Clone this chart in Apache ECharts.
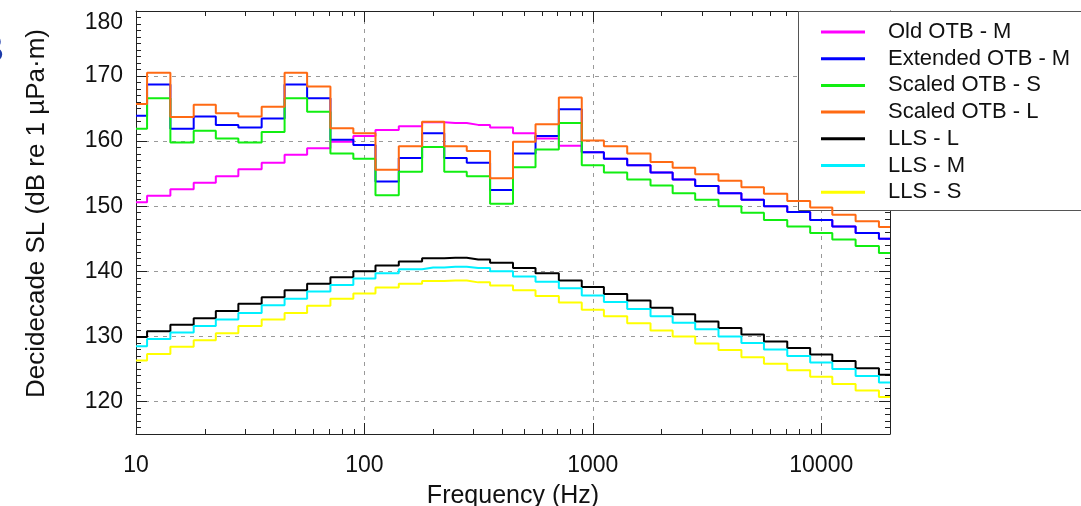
<!DOCTYPE html>
<html><head><meta charset="utf-8">
<script src="https://cdn.jsdelivr.net/npm/echarts@6/dist/echarts.min.js"></script>
<style>html,body{margin:0;padding:0;background:#fff}#c{width:1081px;height:506px}</style>
</head><body><div id="c"></div>
<script>
// Decidecade band centre frequencies (Hz)
const freqs = [10,12.5,16,20,25,31.5,40,50,63,80,100,125,160,200,250,315,400,500,630,800,1000,1250,1600,2000,2500,3150,4000,5000,6300,8000,10000,12500,16000,20000];

const oldOTB_M = [150.6,151.6,152.6,153.6,154.6,155.7,156.7,157.9,158.9,159.9,160.8,161.7,162.3,162.9,162.8,162.5,162.1,161.2,160.4,159.3,158.3,157.3,156.3,155.2,154.1,153.1,152.0,151.0,150.0,149.1,147.9,146.9,145.9,145.0];
const extOTB_M = [163.9,168.7,161.9,163.8,162.5,162.1,163.5,168.7,166.6,160.2,159.4,153.8,157.4,161.2,157.4,156.7,152.5,158.1,160.8,164.9,158.3,157.3,156.3,155.2,154.1,153.1,152.0,151.0,150.0,149.1,147.9,146.9,145.9,145.0];
const scaledOTB_S = [161.9,166.6,159.8,161.6,160.4,159.8,161.4,166.6,164.5,158.1,157.3,151.7,155.3,159.1,155.3,154.6,150.4,156.0,158.7,162.8,156.3,155.2,154.1,153.2,152.0,151.0,150.0,149.0,147.9,146.9,145.9,144.9,143.9,142.8];
const scaledOTB_L = [165.7,170.5,163.7,165.6,164.3,163.8,165.3,170.5,168.4,162.0,161.2,155.6,159.2,163.0,159.2,158.5,154.3,159.9,162.6,166.7,160.1,159.2,158.1,156.8,155.9,154.9,153.9,152.9,151.9,150.8,149.8,148.7,147.7,146.8];
const lls_L = [129.9,130.8,131.8,132.8,133.9,135.0,136.0,137.1,138.1,139.1,140.0,140.9,141.5,142.0,142.1,141.8,141.3,140.5,139.7,138.6,137.6,136.5,135.5,134.4,133.4,132.3,131.3,130.3,129.2,128.2,127.2,126.2,125.1,124.1];
const lls_M = [128.5,129.6,130.6,131.6,132.6,133.6,134.8,135.8,136.9,137.9,138.9,139.7,140.3,140.6,140.7,140.5,140.0,139.2,138.4,137.4,136.3,135.3,134.2,133.1,132.1,131.1,130.0,129.0,128.0,127.0,126.0,125.0,123.9,122.9];
const lls_S = [126.3,127.3,128.4,129.4,130.5,131.6,132.6,133.6,134.7,135.8,136.6,137.5,138.1,138.5,138.6,138.3,137.8,137.1,136.2,135.2,134.1,133.1,132.0,130.9,130.0,128.9,127.9,126.8,125.8,124.8,123.8,122.7,121.7,120.7];

const xTickLabels = [10,100,1000,10000];
const xMajorTicks = [10,100,1000,10000,20000];
const xMinorTicks = [20,30,40,50,60,70,80,90,200,300,400,500,600,700,800,900,2000,3000,4000,5000,6000,7000,8000,9000];
const yTickLabels = [120,130,140,150,160,170,180];
const yMajorTicks = [115,120,130,140,150,160,170,180];
const yMinorTicks = [];
for (let v = 115; v <= 180; v++) yMinorTicks.push(v);

const seriesDefs = [
  {name:'Old OTB - M', data:oldOTB_M, color:'#ff00ff'},
  {name:'Extended OTB - M', data:extOTB_M, color:'#0000ff'},
  {name:'Scaled OTB - S', data:scaledOTB_S, color:'#11ee11'},
  {name:'Scaled OTB - L', data:scaledOTB_L, color:'#ff6a13'},
  {name:'LLS - L', data:lls_L, color:'#000000'},
  {name:'LLS - M', data:lls_M, color:'#00f0ff'},
  {name:'LLS - S', data:lls_S, color:'#ffff00'}
];

const FONT = "'Liberation Sans', Arial, sans-serif";
const axisCol = '#222';
function gridLine() {
  return {show:true, showMinLine:false, showMaxLine:false, lineStyle:{color:'#999', type:[4,5], width:1}};
}
function xAx(pos, major, extra) {
  const t = {show:true, inside:true, length: major ? 11 : 5, lineStyle:{color:axisCol, width:1}};
  t.customValues = major ? xMajorTicks : xMinorTicks;
  return Object.assign({type:'log', logBase:10, min:10, max:20000, position:pos,
    axisLine:{show:major, lineStyle:{color:axisCol, width:1}}, axisTick:t,
    axisLabel:{show:false}, splitLine:{show:false}}, extra || {});
}
function yAx(pos, major, extra) {
  const t = {show:true, inside:true, length: major ? 11 : 5, lineStyle:{color:axisCol, width:1}};
  t.customValues = major ? yMajorTicks : yMinorTicks;
  return Object.assign({type:'value', min:115, max:180, position:pos,
    axisLine:{show:major, lineStyle:{color:axisCol, width:1}}, axisTick:t,
    axisLabel:{show:false}, splitLine:{show:false}}, extra || {});
}

const option = {
  animation:false,
  backgroundColor:'#fff',
  textStyle:{fontFamily:FONT},
  grid:{left:136, top:11, width:754, height:423, outerBoundsMode:'none'},
  xAxis:[
    xAx('bottom', true, {
      axisLabel:{show:true, customValues:xTickLabels, formatter:v => String(v), fontSize:23, color:'#111', margin:20},
      splitLine:gridLine(),
      name:'Frequency (Hz)', nameLocation:'middle', nameGap:50,
      nameTextStyle:{fontSize:25, color:'#111'}
    }),
    xAx('bottom', false),
    xAx('top', true),
    xAx('top', false)
  ],
  yAxis:[
    yAx('left', true, {
      axisLabel:{show:true, customValues:yTickLabels, formatter:v => String(v), fontSize:23, color:'#111', margin:13, verticalAlignMaxLabel:'top'},
      splitLine:gridLine(),
      name:'Decidecade SL (dB re 1 µPa·m)', nameLocation:'middle', nameGap:86,
      nameTextStyle:{fontSize:26, color:'#111', padding:[0,0,0,18]}
    }),
    yAx('left', false),
    yAx('right', true),
    yAx('right', false)
  ],
  legend:{
    orient:'vertical', left:821, top:21, padding:0,
    itemWidth:44, itemHeight:3, itemGap:4.7, icon:'rect',
    textStyle:{fontSize:22, color:'#111', padding:[0,0,0,18]},
    data: seriesDefs.map(s => s.name)
  },
  graphic:[
    {type:'rect', z:3, shape:{x:798.5, y:11.5, width:320, height:199}, style:{fill:'#fff', stroke:'#555', lineWidth:1}},
    {type:'text', z:3, style:{text:'B', x:4, y:52, align:'right', verticalAlign:'middle', fontSize:38, fontWeight:'bold', fill:'#1c3aa9'}}
  ],
  series: seriesDefs.map(s => ({
    name:s.name, type:'line', step:'middle', xAxisIndex:0, yAxisIndex:0,
    showSymbol:false, symbol:'none', color:s.color,
    lineStyle:{color:s.color, width:2},
    data: freqs.map((f,i) => [f, s.data[i]])
  }))
};
const chart = echarts.init(document.getElementById('c'));
chart.setOption(option);
</script></body></html>
